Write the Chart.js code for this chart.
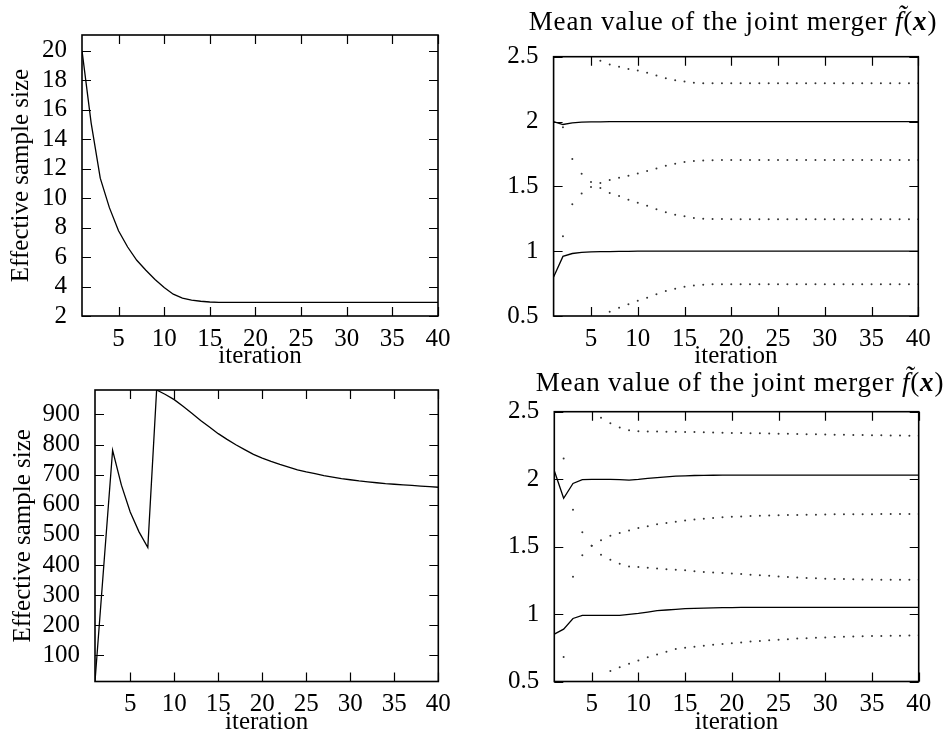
<!DOCTYPE html>
<html lang="en">
<head>
    <meta charset="UTF-8">
    <title>Effective sample size and mean value of the joint merger</title>
    <script src="https://cdn.jsdelivr.net/npm/chart.js"></script>
    <style>
        body { margin: 0; background: #fff; }
        .panel { position: absolute; width: 476px; height: 366px; }
        .ptitle {
            position: absolute;
            font-family: "Liberation Serif", serif;
            font-size: 27px;
            letter-spacing: 0.8px;
            line-height: 30px;
            white-space: nowrap;
            transform: translateX(-50%);
            color: #000;
        }
    </style>
</head>
<body>
    <div class="panel" style="left:0;top:0"><canvas id="essTop"></canvas></div>
    <div class="panel" style="left:476px;top:0"><canvas id="meanTop"></canvas></div>
    <div class="panel" style="left:0;top:366px"><canvas id="essBottom"></canvas></div>
    <div class="panel" style="left:476px;top:366px"><canvas id="meanBottom"></canvas></div>
    <div class="ptitle" style="left:733px;top:6px">Mean value of the joint merger <i>f&#771;</i>(<b><i>x</i></b>)</div>
    <div class="ptitle" style="left:740px;top:367px">Mean value of the joint merger <i>f&#771;</i>(<b><i>x</i></b>)</div>

    <script>
// iterations on the x axis
const iterations = [1,2,3,4,5,6,7,8,9,10,11,12,13,14,15,16,17,18,19,20,
                    21,22,23,24,25,26,27,28,29,30,31,32,33,34,35,36,37,38,39,40];
const xTicks = [5,10,15,20,25,30,35,40];
const essTopTicks = [2,4,6,8,10,12,14,16,18,20];
const essBottomTicks = [100,200,300,400,500,600,700,800,900];
const meanTicks = [0.5,1,1.5,2,2.5];

// top left: effective sample size
const essTop = [20.0,15.1,11.35,9.35,7.78,6.68,5.78,5.1,4.48,3.93,
                3.48,3.22,3.08,3.0,2.95,2.93,2.92,2.92,2.92,2.92,
                2.92,2.92,2.92,2.92,2.92,2.92,2.92,2.92,2.92,2.92,
                2.92,2.92,2.92,2.92,2.92,2.92,2.92,2.92,2.92,2.92];

// bottom left: effective sample size
const essBottom = [13,398,781,665,576,510,458,981,966,949,
                   927,904,880,858,836,817,799,783,767,755,
                   744,734,725,716,709,703,697,692,687,683,
                   679,676,673,670,668,666,664,662,660,658];

// top right: means (solid) and spread (dots)
const trMeanHi = [2.0,1.977,1.99,1.995,1.997,1.998,1.999,2.0,2.0,2.0,
                  2.0,2.0,2.0,2.0,2.0,2.0,2.0,2.0,2.0,2.0,
                  2.0,2.0,2.0,2.0,2.0,2.0,2.0,2.0,2.0,2.0,
                  2.0,2.0,2.0,2.0,2.0,2.0,2.0,2.0,2.0,2.0];
const trMeanLo = [0.80,0.96,0.982,0.99,0.994,0.996,0.997,0.998,0.999,1.0,
                  1.0,1.0,1.0,1.0,1.0,1.0,1.0,1.0,1.0,1.0,
                  1.0,1.0,1.0,1.0,1.0,1.0,1.0,1.0,1.0,1.0,
                  1.0,1.0,1.0,1.0,1.0,1.0,1.0,1.0,1.0,1.0];
const trUpperHi = [null,null,null,null,null,2.468,2.440,2.423,2.405,2.393,
                   2.377,2.355,2.334,2.318,2.308,2.300,2.296,2.295,2.295,2.295,
                   2.295,2.295,2.295,2.295,2.295,2.295,2.295,2.295,2.295,2.295,
                   2.295,2.295,2.295,2.295,2.295,2.295,2.295,2.295,2.295,2.295];
const trLowerHi = [null,1.956,1.71,1.597,1.533,1.487,1.449,1.426,1.397,1.374,
                   1.351,1.323,1.30,1.28,1.269,1.256,1.251,1.249,1.248,1.247,
                   1.247,1.247,1.247,1.247,1.247,1.247,1.247,1.247,1.247,1.247,
                   1.247,1.247,1.247,1.247,1.247,1.247,1.247,1.247,1.247,1.247];
const trUpperLo = [null,1.115,1.362,1.444,1.495,1.526,1.549,1.567,1.582,1.60,
                   1.618,1.638,1.659,1.674,1.687,1.695,1.70,1.702,1.703,1.703,
                   1.703,1.703,1.703,1.703,1.703,1.703,1.703,1.703,1.703,1.703,
                   1.703,1.703,1.703,1.703,1.703,1.703,1.703,1.703,1.703,1.703];
const trLowerLo = [null,null,null,null,null,null,0.533,0.564,0.590,0.618,
                   0.641,0.667,0.692,0.710,0.726,0.736,0.741,0.744,0.745,0.745,
                   0.745,0.745,0.745,0.745,0.745,0.745,0.745,0.745,0.745,0.745,
                   0.745,0.745,0.745,0.745,0.745,0.745,0.745,0.745,0.745,0.745];

// bottom right: means (solid) and spread (dots)
const brMeanHi = [2.062,1.858,1.968,1.996,1.998,1.998,1.998,1.997,1.993,1.998,
                  2.005,2.012,2.017,2.022,2.025,2.027,2.028,2.029,2.03,2.03,
                  2.03,2.03,2.03,2.03,2.03,2.03,2.03,2.03,2.03,2.03,
                  2.03,2.03,2.03,2.03,2.03,2.03,2.03,2.03,2.03,2.03];
const brMeanLo = [0.851,0.888,0.967,0.990,0.990,0.990,0.990,0.990,0.997,1.005,
                  1.015,1.025,1.030,1.035,1.040,1.042,1.044,1.046,1.047,1.048,
                  1.049,1.049,1.05,1.05,1.05,1.05,1.05,1.05,1.05,1.05,
                  1.05,1.05,1.05,1.05,1.05,1.05,1.05,1.05,1.05,1.05];
const brUpperHi = [null,2.154,null,null,null,2.455,2.415,2.383,2.362,2.355,
                   2.354,2.353,2.352,2.351,2.350,2.349,2.347,2.346,2.344,2.343,
                   2.342,2.341,2.340,2.338,2.337,2.336,2.334,2.333,2.332,2.331,
                   2.330,2.329,2.328,2.327,2.326,2.325,2.324,2.323,2.322,2.321];
const brLowerHi = [null,null,1.774,1.607,1.507,1.440,1.402,1.372,1.353,1.348,
                   1.343,1.338,1.333,1.329,1.325,1.318,1.311,1.308,1.304,1.300,
                   1.296,1.292,1.287,1.283,1.279,1.275,1.271,1.268,1.265,1.262,
                   1.260,1.259,1.258,1.257,1.256,1.255,1.255,1.254,1.254,1.254];
const brUpperLo = [null,null,1.276,1.435,1.507,1.547,1.580,1.600,1.620,1.637,
                   1.650,1.665,1.675,1.685,1.694,1.700,1.707,1.712,1.717,1.722,
                   1.724,1.726,1.728,1.730,1.732,1.734,1.735,1.736,1.737,1.738,
                   1.739,1.739,1.740,1.740,1.740,1.741,1.741,1.741,1.741,1.741];
const brLowerLo = [null,0.682,null,null,null,null,0.577,0.606,0.631,0.656,
                   0.680,0.700,0.720,0.740,0.750,0.758,0.765,0.772,0.778,0.784,
                   0.790,0.796,0.801,0.806,0.810,0.814,0.818,0.821,0.824,0.827,
                   0.829,0.831,0.833,0.835,0.837,0.838,0.839,0.840,0.841,0.842];

const serif = { family: '"Liberation Serif", serif', size: 25 };

// gnuplot style frame: box border plus inward ticks on all four sides
const frameTicks = {
    id: 'frameTicks',
    afterDatasetsDraw(chart) {
        const { ctx, chartArea: a, scales: { x, y } } = chart;
        const len = 9;
        ctx.save();
        ctx.strokeStyle = '#000';
        ctx.lineWidth = 1.2;
        ctx.beginPath();
        x.ticks.forEach(t => {
            const px = Math.round(x.getPixelForValue(t.value)) + 0.5;
            ctx.moveTo(px, a.bottom); ctx.lineTo(px, a.bottom - len);
            ctx.moveTo(px, a.top); ctx.lineTo(px, a.top + len);
        });
        y.ticks.forEach(t => {
            const py = Math.round(y.getPixelForValue(t.value)) + 0.5;
            ctx.moveTo(a.left, py); ctx.lineTo(a.left + len, py);
            ctx.moveTo(a.right, py); ctx.lineTo(a.right - len, py);
        });
        ctx.stroke();
        ctx.lineWidth = 1.6;
        ctx.strokeRect(a.left, a.top, a.right - a.left, a.bottom - a.top);
        ctx.restore();
    }
};

function solid(data) {
    return { data: data, borderColor: '#000', borderWidth: 1.3, pointRadius: 0, fill: false, tension: 0 };
}

function dots(data) {
    return { data: data, showLine: false, pointRadius: 1, pointHoverRadius: 0,
             backgroundColor: '#333', borderWidth: 0 };
}

function createChart(canvasId, datasets, p) {
    const ctx = document.getElementById(canvasId).getContext('2d');
    return new Chart(ctx, {
        type: 'line',
        data: { labels: iterations, datasets: datasets },
        options: {
            responsive: true,
            maintainAspectRatio: false,
            animation: false,
            events: [],
            layout: { padding: { top: p.top, right: p.right, left: 0, bottom: 0 } },
            plugins: { legend: { display: false }, tooltip: { enabled: false } },
            scales: {
                x: {
                    type: 'linear', min: 1, max: 40,
                    grid: { display: false }, border: { display: false },
                    afterBuildTicks: s => { s.ticks = xTicks.map(v => ({ value: v })); },
                    afterFit: s => { s.height = p.xh; },
                    ticks: { font: serif, color: '#000', padding: 0, maxRotation: 0, autoSkip: false,
                             callback: v => String(v) },
                    title: { display: true, text: 'iteration', font: serif, color: '#000',
                             padding: { top: 0, bottom: -5 } }
                },
                y: {
                    type: 'linear', min: p.ymin, max: p.ymax,
                    grid: { display: false }, border: { display: false },
                    afterBuildTicks: s => { s.ticks = p.yticks.map(v => ({ value: v })); },
                    afterFit: s => { s.width = p.yw; },
                    ticks: { font: serif, color: '#000', padding: 7, autoSkip: false,
                             callback: v => String(v) },
                    title: { display: !!p.ytitle, text: p.ytitle || '', font: serif, color: '#000',
                             padding: { top: p.ytp || 0, bottom: 0 } }
                }
            }
        },
        plugins: [frameTicks]
    });
}

createChart('essTop', [solid(essTop)],
    { top: 35, right: 38, xh: 50, yw: 82, ymin: 2, ymax: 21.06, yticks: essTopTicks,
      ytitle: 'Effective sample size', ytp: 6 });

createChart('essBottom', [solid(essBottom)],
    { top: 24, right: 37.7, xh: 50.5, yw: 95, ymin: 13, ymax: 981, yticks: essBottomTicks,
      ytitle: 'Effective sample size', ytp: 8 });

createChart('meanTop',
    [solid(trMeanHi), solid(trMeanLo), dots(trUpperHi), dots(trLowerHi), dots(trUpperLo), dots(trLowerLo)],
    { top: 56.7, right: 33.7, xh: 50, yw: 77.6, ymin: 0.5, ymax: 2.5, yticks: meanTicks });

createChart('meanBottom',
    [solid(brMeanHi), solid(brMeanLo), dots(brUpperHi), dots(brLowerHi), dots(brUpperLo), dots(brLowerLo)],
    { top: 45.7, right: 33.3, xh: 50.5, yw: 78.3, ymin: 0.5, ymax: 2.5, yticks: meanTicks });
    </script>
</body>
</html>
